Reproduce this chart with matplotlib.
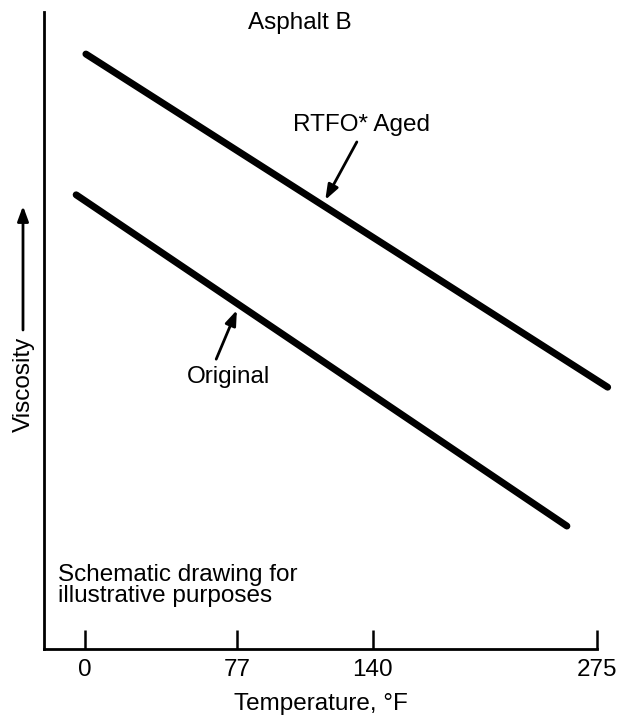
import matplotlib.pyplot as plt
from matplotlib.patches import FancyArrowPatch

plt.rcParams['font.family'] = ['Liberation Sans', 'DejaVu Sans']

# schematic, arbitrary units (x: temperature axis position, y: log viscosity)
temp_labels = ['0', '77', '140', '275']
temp_pos = [7.1, 33.6, 57.3, 96.3]

aged_x = [7.3, 98.2]
aged_visc = [93.4, 41.1]
orig_x = [5.6, 91.1]
orig_visc = [71.3, 19.3]

FS = 17.5
ARROW = '-|>,head_length=0.6,head_width=0.22'

W, H = 618, 716
fig = plt.figure(figsize=(W / 100, H / 100), dpi=100)
ax = fig.add_axes([44 / W, (H - 649) / H, (W - 44) / W, (649 - 12) / H])
ax.set_xlim(0, 100)
ax.set_ylim(0, 100)

ax.plot(aged_x, aged_visc, color='black', lw=5, solid_capstyle='round')
ax.plot(orig_x, orig_visc, color='black', lw=5, solid_capstyle='round')

# axes styling
for s in ['top', 'right']:
    ax.spines[s].set_visible(False)
ax.spines['left'].set_linewidth(2)
ax.spines['bottom'].set_linewidth(2)
ax.spines['bottom'].set_bounds(0, temp_pos[-1])
ax.set_yticks([])
ax.set_xticks(temp_pos)
ax.set_xticklabels(temp_labels, fontsize=FS)
ax.tick_params(axis='x', direction='in', length=14, width=1.8, pad=7)
ax.set_xlabel('Temperature, °F', fontsize=FS)
ax.xaxis.set_label_coords(0.482, -0.069)

# annotations
ax.text(44.6, 98.3, 'Asphalt B', fontsize=FS, ha='center', va='center')
ax.text(55.4, 82.3, 'RTFO* Aged', fontsize=FS, ha='center', va='center')
ax.annotate('', xy=(49.0, 70.5), xytext=(54.5, 79.6),
            arrowprops=dict(arrowstyle=ARROW, mutation_scale=15,
                            color='black', lw=2, shrinkA=0, shrinkB=0))
ax.text(32.2, 42.7, 'Original', fontsize=FS, ha='center', va='center')
ax.annotate('', xy=(33.6, 53.2), xytext=(30.0, 45.5),
            arrowprops=dict(arrowstyle=ARROW, mutation_scale=15,
                            color='black', lw=2, shrinkA=0, shrinkB=0))
ax.text(2.4, 10.0, 'Schematic drawing for\nillustrative purposes',
        fontsize=FS, ha='left', va='center', linespacing=0.95)

# y label with arrow
fig.text(24 / W, 1 - 384 / H, 'Viscosity', fontsize=FS, rotation=90,
         ha='center', va='center')
fig.add_artist(FancyArrowPatch(
    (23 / W, 1 - 330 / H), (23 / W, 1 - 206 / H), transform=fig.transFigure,
    arrowstyle=ARROW, mutation_scale=15, color='black', lw=2,
    shrinkA=0, shrinkB=0))

plt.savefig('out.png', dpi=100)
